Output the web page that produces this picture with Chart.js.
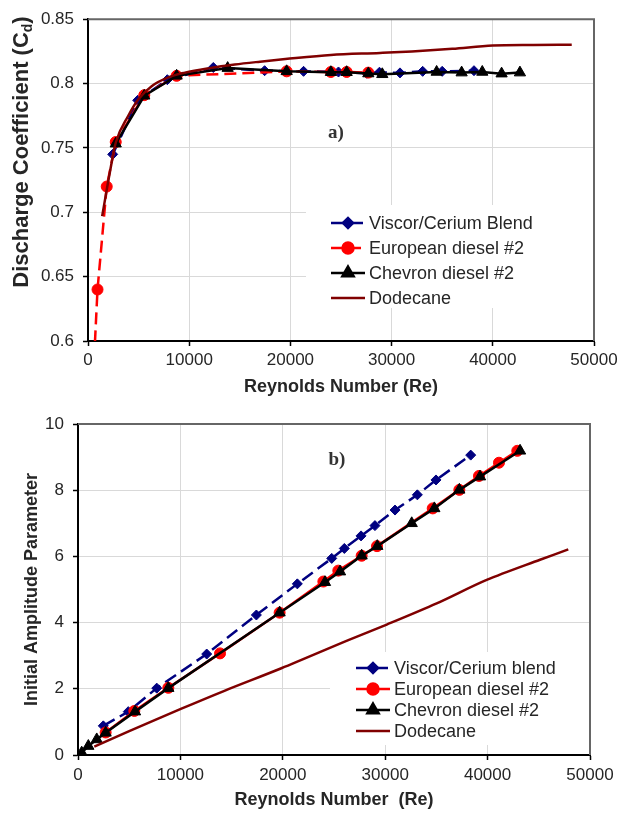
<!DOCTYPE html>
<html>
<head>
<meta charset="utf-8">
<script src="https://cdn.jsdelivr.net/npm/chart.js@4.4.1/dist/chart.umd.min.js"></script>
<style>
    html, body { margin: 0; padding: 0; background: #fff; }
    #wrap { position: relative; width: 628px; height: 816px; }
    .box { position: absolute; left: 0; width: 628px; }
    #boxA { top: 0; height: 400px; }
    #boxB { top: 400px; height: 416px; }
</style>
</head>
<body>
<div id="wrap">
    <div class="box" id="boxA"><canvas id="chartA"></canvas></div>
    <div class="box" id="boxB"><canvas id="chartB"></canvas></div>
</div>
<script>
// ---- data, panel a) discharge coefficient ----
const viscorReA = [2440, 4910, 7840, 12380, 17450, 21300, 24750, 27550, 28800, 30830, 33070, 35000, 38140];
const viscorCd = [0.745, 0.787, 0.803, 0.8125, 0.810, 0.8095, 0.809, 0.808, 0.8088, 0.8083, 0.8095, 0.8095, 0.810];

const europeanReA = [600, 940, 1850, 2740, 5560, 8760, 19630, 24000, 25560, 27700];
const europeanCd = [0.585, 0.640, 0.720, 0.7546, 0.791, 0.806, 0.8095, 0.809, 0.809, 0.8085];

const chevronReA = [2740, 5560, 8760, 13800, 19630, 24000, 25560, 27700, 29080, 34450, 36920, 38960, 40870, 42680];
const chevronCd = [0.7533, 0.7905, 0.806, 0.812, 0.8095, 0.8088, 0.8088, 0.8078, 0.8072, 0.809, 0.8085, 0.809, 0.8077, 0.8085];

const dodecaneReA = [1400, 2170, 2740, 3980, 5000, 6290, 8000, 9580, 12000, 14500, 17000, 19500, 24000, 28850, 32000, 36000, 40000, 44000, 47800];
const dodecaneCd = [0.697, 0.7315, 0.754, 0.775, 0.788, 0.798, 0.805, 0.8085, 0.812, 0.8148, 0.817, 0.819, 0.8222, 0.8238, 0.825, 0.827, 0.8295, 0.830, 0.8302];

// ---- data, panel b) initial amplitude parameter ----
const viscorReB = [2470, 4910, 7690, 12570, 17420, 21420, 24780, 26010, 27640, 29000, 30960, 33140, 34960, 38350];
const viscorAmp = [0.88, 1.31, 2.02, 3.05, 4.23, 5.17, 5.94, 6.24, 6.62, 6.93, 7.40, 7.86, 8.31, 9.06];

const europeanReB = [2700, 5500, 8820, 13870, 19690, 23960, 25420, 27700, 29200, 34640, 37240, 39160, 41110, 42900];
const europeanAmp = [0.68, 1.33, 2.03, 3.07, 4.30, 5.24, 5.57, 6.02, 6.31, 7.45, 8.01, 8.43, 8.83, 9.19];

const chevronReB = [360, 1010, 1830, 2700, 5570, 8820, 19690, 24120, 25590, 27700, 29230, 32590, 34800, 37240, 39260, 43170];
const chevronAmp = [0.07, 0.27, 0.47, 0.67, 1.31, 2.02, 4.30, 5.22, 5.54, 6.02, 6.31, 7.00, 7.45, 8.01, 8.41, 9.19];

const dodecaneReB = [1590, 5000, 10100, 14300, 19860, 26400, 30150, 35030, 39910, 45120, 47880];
const dodecaneAmp = [0.25, 0.72, 1.40, 1.94, 2.62, 3.47, 3.94, 4.58, 5.29, 5.90, 6.21];

// axis ticks
const reTicks = [0, 10000, 20000, 30000, 40000, 50000];
const cdTicks = [0.6, 0.65, 0.7, 0.75, 0.8, 0.85];
const ampTicks = [0, 2, 4, 6, 8, 10];

const labelsA = ['Viscor/Cerium Blend', 'European diesel #2', 'Chevron diesel #2', 'Dodecane'];
const labelsB = ['Viscor/Cerium blend', 'European diesel #2', 'Chevron diesel #2', 'Dodecane'];

Chart.defaults.font.family = "'Liberation Sans', Arial, sans-serif";
Chart.defaults.color = '#262626';

const NAVY = '#000080';
const RED = '#ff0000';
const MAROON = '#800000';

// turn two lists into {x, y} points
function toPoints(xs, ys) {
    return xs.map((x, i) => ({ x: x, y: ys[i] }));
}

// frame, panel letter, legend and y title with subscript
const panelDecor = {
    id: 'panelDecor',
    beforeDatasetsDraw(chart, args, opts) {
        const ctx = chart.ctx;
        const b = opts.legendBox;
        ctx.save();
        ctx.fillStyle = '#fff';
        ctx.fillRect(b[0], b[1], b[2], b[3]);
        ctx.restore();
    },
    afterDraw(chart, args, opts) {
        const ctx = chart.ctx;
        const a = chart.chartArea;
        ctx.save();

        // top and right frame
        ctx.strokeStyle = '#666';
        ctx.lineWidth = 2;
        ctx.beginPath();
        ctx.moveTo(a.left, a.top);
        ctx.lineTo(a.right, a.top);
        ctx.lineTo(a.right, a.bottom);
        ctx.stroke();

        // panel letter
        ctx.font = 'bold 19px "Liberation Serif", "Times New Roman", serif';
        ctx.fillStyle = '#333';
        ctx.textAlign = 'center';
        ctx.textBaseline = 'middle';
        ctx.fillText(opts.letter, opts.letterPos[0], opts.letterPos[1]);

        // legend
        ctx.font = "18px 'Liberation Sans', Arial, sans-serif";
        ctx.textAlign = 'left';
        chart.data.datasets.forEach((ds, i) => {
            const y = opts.legendY[i];
            const x0 = opts.legendX;
            const x1 = x0 + 34;
            ctx.strokeStyle = ds.borderColor;
            ctx.lineWidth = ds.borderWidth;
            ctx.setLineDash(ds.borderDash || []);
            ctx.beginPath();
            ctx.moveTo(x0, y);
            ctx.lineTo(x1, y);
            ctx.stroke();
            ctx.setLineDash([]);
            const r = Array.isArray(ds.pointRadius) ? ds.pointRadius[ds.pointRadius.length - 1] : ds.pointRadius;
            if (r > 0) {
                ctx.fillStyle = ds.pointBackgroundColor;
                ctx.strokeStyle = ds.pointBorderColor;
                Chart.helpers.drawPoint(ctx, { pointStyle: ds.pointStyle, radius: r, borderWidth: 1, rotation: 0 }, (x0 + x1) / 2, y);
            }
            ctx.fillStyle = '#262626';
            ctx.fillText(ds.label, x1 + 4, y + 1);
        });

        // y title drawn by hand for the subscript
        if (opts.yTitle) {
            const t = opts.yTitle;
            ctx.translate(t.x, t.y);
            ctx.rotate(-Math.PI / 2);
            ctx.fillStyle = '#262626';
            ctx.textBaseline = 'middle';
            const big = "bold 22px 'Liberation Sans', Arial, sans-serif";
            const small = "bold 14px 'Liberation Sans', Arial, sans-serif";
            ctx.font = big;
            const w1 = ctx.measureText(t.main).width;
            const w3 = ctx.measureText(t.close).width;
            ctx.font = small;
            const w2 = ctx.measureText(t.sub).width;
            let x = -(w1 + w2 + w3) / 2;
            ctx.font = big;
            ctx.fillText(t.main, x, 0);
            x += w1;
            ctx.font = small;
            ctx.fillText(t.sub, x, 6);
            x += w2;
            ctx.font = big;
            ctx.fillText(t.close, x, 0);
        }
        ctx.restore();
    }
};

function makeDatasets(labels, viscor, european, chevron, dodecane, redDashed, firstRedHidden) {
    const redRadius = european.map((p, i) => (firstRedHidden && i === 0) ? 0 : 5.5);
    return [{
        label: labels[0],
        data: viscor,
        showLine: true,
        borderColor: NAVY,
        borderWidth: 2.5,
        borderDash: [13, 6],
        pointStyle: 'rectRot',
        pointRadius: 5,
        pointBackgroundColor: NAVY,
        pointBorderColor: NAVY,
        pointBorderWidth: 1,
        order: 4
    }, {
        label: labels[1],
        data: european,
        showLine: true,
        borderColor: RED,
        borderWidth: 2.5,
        borderDash: redDashed ? [12, 6] : [],
        pointStyle: 'circle',
        pointRadius: redRadius,
        pointBackgroundColor: RED,
        pointBorderColor: RED,
        pointBorderWidth: 1,
        order: 3
    }, {
        label: labels[2],
        data: chevron,
        showLine: true,
        borderColor: '#000',
        borderWidth: 2.5,
        pointStyle: 'triangle',
        pointRadius: 6.5,
        pointBackgroundColor: '#000',
        pointBorderColor: '#000',
        pointBorderWidth: 1,
        order: 2
    }, {
        label: labels[3],
        data: dodecane,
        showLine: true,
        borderColor: MAROON,
        borderWidth: 2.5,
        pointRadius: 0,
        pointBackgroundColor: MAROON,
        pointBorderColor: MAROON,
        tension: 0.3,
        cubicInterpolationMode: redDashed ? 'monotone' : 'default',
        order: 1
    }];
}

function xScale(titleText, tickPad, titlePad, height) {
    return {
        type: 'linear',
        min: reTicks[0],
        max: reTicks[reTicks.length - 1],
        afterBuildTicks: scale => { scale.ticks = reTicks.map(v => ({ value: v })); },
        afterFit: scale => { scale.height = height; },
        ticks: {
            font: { size: 17 },
            padding: tickPad,
            callback: v => String(v)
        },
        grid: { color: '#d9d9d9', lineWidth: 1, tickColor: '#000', tickLength: 5, tickWidth: 1.5 },
        border: { color: '#000', width: 2 },
        title: {
            display: true,
            text: titleText,
            font: { size: 18, weight: 'bold' },
            padding: { top: 0, bottom: titlePad }
        }
    };
}

function yScale(tickValues, width, fmt, title) {
    return {
        type: 'linear',
        min: tickValues[0],
        max: tickValues[tickValues.length - 1],
        afterBuildTicks: scale => { scale.ticks = tickValues.map(v => ({ value: v })); },
        afterFit: scale => { scale.width = width; },
        ticks: {
            font: { size: 17 },
            padding: 9,
            callback: fmt
        },
        grid: { color: '#d9d9d9', lineWidth: 1, tickColor: '#000', tickLength: 5, tickWidth: 1.5 },
        border: { color: '#000', width: 2 },
        title: title
    };
}

// panel a)
new Chart(document.getElementById('chartA'), {
    type: 'scatter',
    data: {
        datasets: makeDatasets(labelsA,
            toPoints(viscorReA, viscorCd),
            toPoints(europeanReA, europeanCd),
            toPoints(chevronReA, chevronCd),
            toPoints(dodecaneReA, dodecaneCd), true, true)
    },
    options: {
        responsive: true,
        maintainAspectRatio: false,
        animation: false,
        layout: { padding: { top: 16, right: 34, left: 0, bottom: 0 } },
        scales: {
            x: xScale('Reynolds Number (Re)', 4, 2, 59),
            y: yScale(cdTicks, 88, v => String(parseFloat(v.toFixed(2))), { display: false })
        },
        plugins: {
            legend: { display: false },
            tooltip: { enabled: false },
            panelDecor: {
                legendBox: [306, 205, 287, 103],
                legendX: 331,
                legendY: [223, 248, 273, 298],
                letter: 'a)',
                letterPos: [336, 133],
                yTitle: { x: 22, y: 152, main: 'Discharge Coefficient (C', sub: 'd', close: ')' }
            }
        }
    },
    plugins: [panelDecor]
});

// panel b)
new Chart(document.getElementById('chartB'), {
    type: 'scatter',
    data: {
        datasets: makeDatasets(labelsB,
            toPoints(viscorReB, viscorAmp),
            toPoints(europeanReB, europeanAmp),
            toPoints(chevronReB, chevronAmp),
            toPoints(dodecaneReB, dodecaneAmp), false, false)
    },
    options: {
        responsive: true,
        maintainAspectRatio: false,
        animation: false,
        layout: { padding: { top: 24, right: 38, left: 0, bottom: 0 } },
        scales: {
            x: xScale('Reynolds Number  (Re)', 5, 5, 61),
            y: yScale(ampTicks, 78, v => String(v), {
                display: true,
                text: 'Initial Amplitude Parameter',
                font: { size: 18, weight: 'bold' },
                padding: { top: 21, bottom: 0 }
            })
        },
        plugins: {
            legend: { display: false },
            tooltip: { enabled: false },
            panelDecor: {
                legendBox: [330, 252, 259, 93],
                legendX: 356,
                legendY: [268, 289, 310, 331],
                letter: 'b)',
                letterPos: [337, 60]
            }
        }
    },
    plugins: [panelDecor]
});
</script>
</body>
</html>
